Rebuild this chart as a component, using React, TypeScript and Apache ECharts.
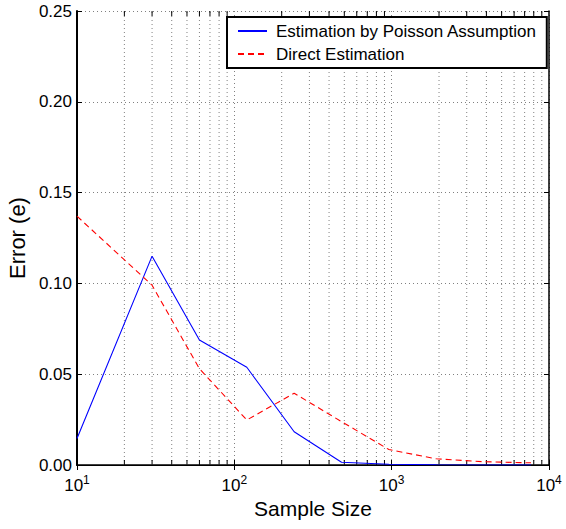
import React, { useEffect, useRef } from "react";
import * as echarts from "echarts";

const sampleSizes = [10, 30, 60, 120, 240, 480, 960, 1920, 3840, 7680];
const poissonError = [0.0146, 0.115, 0.0688, 0.0538, 0.0183, 0.0015, 0.0004, 0.0001, 0.0, 0.0];
const directError = [0.137, 0.099, 0.053, 0.0248, 0.0395, 0.0239, 0.0085, 0.0034, 0.0018, 0.0012];
const minorTicks = [20, 30, 40, 50, 60, 70, 80, 90, 200, 300, 400, 500, 600, 700, 800, 900, 2000, 3000, 4000, 5000, 6000, 7000, 8000, 9000];
const seriesNames = ["Estimation by Poisson Assumption", "Direct Estimation"];

const FONT = "'Liberation Sans', Arial, Helvetica, sans-serif";

export default function App() {
  const ref = useRef<HTMLDivElement>(null);
  useEffect(() => {
    if (!ref.current) return;
    const chart = echarts.init(ref.current, null, { renderer: "svg" });
    const gridColor = "#808080";
    const xCommon = {
      type: "log" as const,
      logBase: 10,
      min: 10,
      max: 10000,
    };
    chart.setOption({
      animation: false,
      backgroundColor: "#fff",
      textStyle: { fontFamily: FONT },
      grid: { left: 77, right: 17, top: 11, bottom: 64, containLabel: false, outerBoundsMode: "none" },
      legend: {
        orient: "vertical",
        left: 227,
        top: 17,
        padding: [4, 10, 4, 10],
        itemWidth: 29,
        itemHeight: 20,
        itemGap: 3,
        borderColor: "#000",
        borderWidth: 2,
        backgroundColor: "#fff",
        z: 10,
        itemStyle: { opacity: 0 },
        textStyle: { fontSize: 17, color: "#000", fontFamily: FONT, lineHeight: 20, padding: [0, 0, 0, 4] },
        data: seriesNames,
      },
      xAxis: [
        {
          ...xCommon,
          position: "bottom",
          name: "Sample Size",
          nameLocation: "middle",
          nameGap: 26,
          nameTextStyle: { fontSize: 21, color: "#000", fontFamily: FONT },
          axisLine: { show: true, lineStyle: { color: "#000", width: 1.5 } },
          axisTick: { show: true, inside: true, length: 5, lineStyle: { color: "#000" } },
          splitLine: { show: true, lineStyle: { color: gridColor, width: 1, type: [1, 3] } },
          axisLabel: {
            margin: 9,
            color: "#000",
            formatter: (v: number) => `{b|10}{s|${Math.round(Math.log10(v))}}`,
            rich: {
              b: { fontSize: 17, fontFamily: FONT, color: "#000", lineHeight: 22 },
              s: { fontSize: 12, fontFamily: FONT, color: "#000", verticalAlign: "top", lineHeight: 12 },
            },
          },
        },
        {
          ...xCommon,
          position: "top",
          axisLine: { show: true, lineStyle: { color: "#000", width: 1 } },
          axisTick: { show: true, inside: true, length: 5, lineStyle: { color: "#000" } },
          axisLabel: { show: false },
          splitLine: { show: false },
        },
      ],
      yAxis: [
        {
          type: "value",
          min: 0,
          max: 0.25,
          interval: 0.05,
          position: "left",
          name: "Error (e)",
          nameLocation: "middle",
          nameGap: 45,
          nameRotate: 90,
          nameTextStyle: { fontSize: 22, color: "#000", fontFamily: FONT },
          axisLine: { show: true, lineStyle: { color: "#000", width: 2 } },
          axisTick: { show: true, inside: true, length: 5, lineStyle: { color: "#000" } },
          splitLine: { show: true, lineStyle: { color: gridColor, width: 1, type: [1, 3] } },
          axisLabel: {
            margin: 5,
            color: "#000",
            fontSize: 17,
            fontFamily: FONT,
            formatter: (v: number) => v.toFixed(2),
          },
        },
        {
          type: "value",
          min: 0,
          max: 0.25,
          interval: 0.05,
          position: "right",
          axisLine: { show: true, lineStyle: { color: "#000", width: 1.5 } },
          axisTick: { show: true, inside: true, length: 5, lineStyle: { color: "#000" } },
          axisLabel: { show: false },
          splitLine: { show: false },
        },
      ],
      series: [
        {
          type: "custom",
          name: "minor",
          xAxisIndex: 0,
          yAxisIndex: 0,
          silent: true,
          z: 1,
          data: minorTicks.map((t) => [t, 0]),
          encode: { x: 0, y: 1 },
          renderItem: (params: any, api: any) => {
            const x = api.value(0);
            const b = api.coord([x, 0]);
            const t = api.coord([x, 0.25]);
            return {
              type: "group",
              children: [
                {
                  type: "line",
                  shape: { x1: b[0], y1: b[1], x2: t[0], y2: t[1] },
                  style: { stroke: gridColor, lineWidth: 1, lineDash: [1, 3] },
                },
                {
                  type: "line",
                  shape: { x1: b[0], y1: b[1], x2: b[0], y2: b[1] - 5 },
                  style: { stroke: "#000", lineWidth: 1 },
                },
                {
                  type: "line",
                  shape: { x1: t[0], y1: t[1], x2: t[0], y2: t[1] + 5 },
                  style: { stroke: "#000", lineWidth: 1 },
                },
              ],
            };
          },
        },
        {
          type: "line",
          name: seriesNames[0],
          data: sampleSizes.map((s, i) => [s, poissonError[i]]),
          symbol: "none",
          z: 3,
          lineStyle: { color: "#0000ff", width: 1.1, type: "solid" },
          itemStyle: { color: "#0000ff" },
        },
        {
          type: "line",
          name: seriesNames[1],
          data: sampleSizes.map((s, i) => [s, directError[i]]),
          symbol: "none",
          z: 3,
          lineStyle: { color: "#ff0000", width: 1.1, type: [6, 4] },
          itemStyle: { color: "#ff0000" },
        },
      ],
    });
    return () => chart.dispose();
  }, []);
  return (
    <div
      ref={ref}
      style={{ position: "absolute", left: 0, top: 0, width: 566, height: 529, background: "#fff" }}
    />
  );
}
